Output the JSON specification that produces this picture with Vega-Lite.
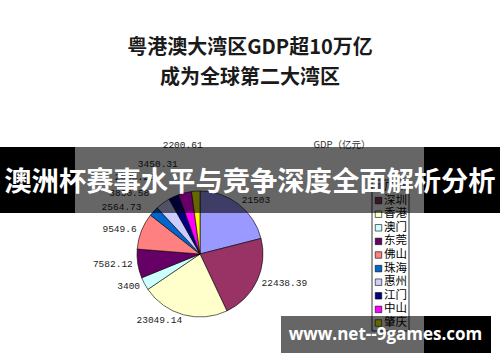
{
  "$schema": "https://vega.github.io/schema/vega-lite/v6.json",
  "width": 500,
  "height": 362,
  "padding": 0,
  "autosize": {"type": "none"},
  "background": "white",
  "config": {"view": {"stroke": null}},
  "resolve": {"scale": {"y": "independent"}},
  "datasets": {
    "gdp": [
      {"i": 1, "city": "广州", "gdp": 21503, "label": "21503"},
      {"i": 2, "city": "深圳", "gdp": 22438.39, "label": "22438.39"},
      {"i": 3, "city": "香港", "gdp": 23049.14, "label": "23049.14"},
      {"i": 4, "city": "澳门", "gdp": 3400, "label": "3400"},
      {"i": 5, "city": "东莞", "gdp": 7582.12, "label": "7582.12"},
      {"i": 6, "city": "佛山", "gdp": 9549.6, "label": "9549.6"},
      {"i": 7, "city": "珠海", "gdp": 2564.73, "label": "2564.73"},
      {"i": 8, "city": "惠州", "gdp": 3830.58, "label": "3830.58"},
      {"i": 9, "city": "江门", "gdp": 2690.25, "label": "2690.25"},
      {"i": 10, "city": "中山", "gdp": 3450.31, "label": "3450.31"},
      {"i": 11, "city": "肇庆", "gdp": 2200.61, "label": "2200.61"}
    ],
    "one": [{}]
  },
  "layer": [
    {
      "data": {"name": "gdp"},
      "mark": {"type": "arc", "outerRadius": 63, "stroke": "#000", "strokeWidth": 0.6},
      "encoding": {
        "x": {"datum": 200, "type": "quantitative", "scale": {"domain": [0, 500], "nice": false, "zero": false}, "axis": null},
        "y": {"datum": 254, "type": "quantitative", "scale": {"domain": [0, 362], "nice": false, "zero": false, "reverse": true}, "axis": null},
        "theta": {"field": "gdp", "type": "quantitative", "stack": true},
        "order": {"field": "i", "type": "quantitative"},
        "detail": {"field": "city"},
        "color": {"field": "city", "type": "nominal", "legend": null,
          "scale": {"domain": ["广州","深圳","香港","澳门","东莞","佛山","珠海","惠州","江门","中山","肇庆"],
                    "range": ["#9999ff","#993366","#ffffcc","#ccffff","#660066","#ff8080","#0066cc","#ccccff","#000080","#ff00ff","#ffff00"]}}
      }
    },
    {
      "data": {"name": "gdp"},
      "mark": {"type": "text", "radius": 68, "align": "left", "baseline": "middle", "font": "Liberation Mono", "fontSize": 9.5, "color": "#222"},
      "encoding": {
        "x": {"datum": 200, "type": "quantitative", "scale": {"domain": [0, 500], "nice": false, "zero": false}, "axis": null},
        "y": {"datum": 254, "type": "quantitative", "scale": {"domain": [0, 362], "nice": false, "zero": false, "reverse": true}, "axis": null},
        "theta": {"field": "gdp", "type": "quantitative", "stack": true},
        "order": {"field": "i", "type": "quantitative"},
        "detail": {"field": "city"},
        "text": {"condition": {"test": "indexof(['广州','深圳'], datum.city) >= 0", "field": "label", "type": "nominal"}, "value": ""}
      }
    },
    {
      "data": {"name": "gdp"},
      "mark": {"type": "text", "radius": 68, "align": "right", "baseline": "middle", "font": "Liberation Mono", "fontSize": 9.5, "color": "#222"},
      "encoding": {
        "x": {"datum": 200, "type": "quantitative", "scale": {"domain": [0, 500], "nice": false, "zero": false}, "axis": null},
        "y": {"datum": 254, "type": "quantitative", "scale": {"domain": [0, 362], "nice": false, "zero": false, "reverse": true}, "axis": null},
        "theta": {"field": "gdp", "type": "quantitative", "stack": true},
        "order": {"field": "i", "type": "quantitative"},
        "detail": {"field": "city"},
        "text": {"condition": {"test": "indexof(['香港','澳门','东莞','佛山'], datum.city) >= 0", "field": "label", "type": "nominal"}, "value": ""}
      }
    },
    {
      "data": {"name": "gdp"},
      "mark": {"type": "text", "radius": 70, "dx": -7, "align": "right", "baseline": "middle", "font": "Liberation Mono", "fontSize": 9.5, "color": "#222"},
      "encoding": {
        "x": {"datum": 200, "type": "quantitative", "scale": {"domain": [0, 500], "nice": false, "zero": false}, "axis": null},
        "y": {"datum": 254, "type": "quantitative", "scale": {"domain": [0, 362], "nice": false, "zero": false, "reverse": true}, "axis": null},
        "theta": {"field": "gdp", "type": "quantitative", "stack": true},
        "order": {"field": "i", "type": "quantitative"},
        "detail": {"field": "city"},
        "text": {"condition": {"test": "datum.city == '珠海'", "field": "label", "type": "nominal"}, "value": ""}
      }
    },
    {
      "data": {"name": "gdp"},
      "mark": {"type": "text", "radius": 76, "dx": -6, "align": "right", "baseline": "middle", "font": "Liberation Mono", "fontSize": 9.5, "color": "#222"},
      "encoding": {
        "x": {"datum": 200, "type": "quantitative", "scale": {"domain": [0, 500], "nice": false, "zero": false}, "axis": null},
        "y": {"datum": 254, "type": "quantitative", "scale": {"domain": [0, 362], "nice": false, "zero": false, "reverse": true}, "axis": null},
        "theta": {"field": "gdp", "type": "quantitative", "stack": true},
        "order": {"field": "i", "type": "quantitative"},
        "detail": {"field": "city"},
        "text": {"condition": {"test": "datum.city == '惠州'", "field": "label", "type": "nominal"}, "value": ""}
      }
    },
    {
      "data": {"name": "gdp"},
      "mark": {"type": "text", "radius": 85, "dx": -10, "align": "right", "baseline": "middle", "font": "Liberation Mono", "fontSize": 9.5, "color": "#222"},
      "encoding": {
        "x": {"datum": 200, "type": "quantitative", "scale": {"domain": [0, 500], "nice": false, "zero": false}, "axis": null},
        "y": {"datum": 254, "type": "quantitative", "scale": {"domain": [0, 362], "nice": false, "zero": false, "reverse": true}, "axis": null},
        "theta": {"field": "gdp", "type": "quantitative", "stack": true},
        "order": {"field": "i", "type": "quantitative"},
        "detail": {"field": "city"},
        "text": {"condition": {"test": "datum.city == '江门'", "field": "label", "type": "nominal"}, "value": ""}
      }
    },
    {
      "data": {"name": "gdp"},
      "mark": {"type": "text", "radius": 93, "align": "right", "baseline": "middle", "font": "Liberation Mono", "fontSize": 9.5, "color": "#222"},
      "encoding": {
        "x": {"datum": 200, "type": "quantitative", "scale": {"domain": [0, 500], "nice": false, "zero": false}, "axis": null},
        "y": {"datum": 254, "type": "quantitative", "scale": {"domain": [0, 362], "nice": false, "zero": false, "reverse": true}, "axis": null},
        "theta": {"field": "gdp", "type": "quantitative", "stack": true},
        "order": {"field": "i", "type": "quantitative"},
        "detail": {"field": "city"},
        "text": {"condition": {"test": "datum.city == '中山'", "field": "label", "type": "nominal"}, "value": ""}
      }
    },
    {
      "data": {"name": "gdp"},
      "mark": {"type": "text", "radius": 109, "dx": 10, "align": "right", "baseline": "middle", "font": "Liberation Mono", "fontSize": 9.5, "color": "#222"},
      "encoding": {
        "x": {"datum": 200, "type": "quantitative", "scale": {"domain": [0, 500], "nice": false, "zero": false}, "axis": null},
        "y": {"datum": 254, "type": "quantitative", "scale": {"domain": [0, 362], "nice": false, "zero": false, "reverse": true}, "axis": null},
        "theta": {"field": "gdp", "type": "quantitative", "stack": true},
        "order": {"field": "i", "type": "quantitative"},
        "detail": {"field": "city"},
        "text": {"condition": {"test": "datum.city == '肇庆'", "field": "label", "type": "nominal"}, "value": ""}
      }
    },
    {
      "data": {"name": "one"},
      "mark": {"type": "rect", "filled": false, "stroke": "#000", "strokeWidth": 0.8},
      "encoding": {
        "x": {"datum": 372, "type": "quantitative", "scale": {"domain": [0, 500], "nice": false, "zero": false}, "axis": null},
        "x2": {"datum": 409},
        "y": {"datum": 180, "type": "quantitative", "scale": {"domain": [0, 362], "nice": false, "zero": false, "reverse": true}, "axis": null},
        "y2": {"datum": 331}
      }
    },
    {
      "data": {"name": "gdp"},
      "mark": {"type": "point", "shape": "square", "size": 42, "filled": true, "stroke": "#000", "strokeWidth": 0.6, "opacity": 1},
      "encoding": {
        "x": {"datum": 378.5, "type": "quantitative", "scale": {"domain": [0, 500], "nice": false, "zero": false}, "axis": null},
        "y": {"field": "city", "type": "nominal", "axis": null,
          "scale": {"type": "point", "domain": ["广州","深圳","香港","澳门","东莞","佛山","珠海","惠州","江门","中山","肇庆"], "range": [187, 323], "padding": 0}},
        "color": {"field": "city", "type": "nominal", "legend": null}
      }
    },
    {
      "data": {"name": "gdp"},
      "mark": {"type": "text", "align": "left", "baseline": "middle", "font": "Noto Sans CJK SC", "fontSize": 11.5, "color": "#000"},
      "encoding": {
        "x": {"datum": 384, "type": "quantitative", "scale": {"domain": [0, 500], "nice": false, "zero": false}, "axis": null},
        "y": {"field": "city", "type": "nominal", "axis": null,
          "scale": {"type": "point", "domain": ["广州","深圳","香港","澳门","东莞","佛山","珠海","惠州","江门","中山","肇庆"], "range": [187, 323], "padding": 0}},
        "text": {"field": "city", "type": "nominal"}
      }
    },
    {
      "data": {"name": "one"},
      "mark": {"type": "text", "align": "center", "baseline": "middle", "font": "Noto Sans CJK SC", "fontSize": 9.5, "color": "#333", "text": "GDP（亿元）"},
      "encoding": {
        "x": {"datum": 342, "type": "quantitative", "scale": {"domain": [0, 500], "nice": false, "zero": false}, "axis": null},
        "y": {"datum": 145, "type": "quantitative", "scale": {"domain": [0, 362], "nice": false, "zero": false, "reverse": true}, "axis": null}
      }
    },
    {
      "data": {"name": "one"},
      "mark": {"type": "text", "align": "center", "baseline": "middle", "font": "Noto Sans CJK SC", "fontWeight": "bold", "fontSize": 20, "color": "#1a1a1a", "text": "粤港澳大湾区GDP超10万亿"},
      "encoding": {
        "x": {"datum": 250, "type": "quantitative", "scale": {"domain": [0, 500], "nice": false, "zero": false}, "axis": null},
        "y": {"datum": 48, "type": "quantitative", "scale": {"domain": [0, 362], "nice": false, "zero": false, "reverse": true}, "axis": null}
      }
    },
    {
      "data": {"name": "one"},
      "mark": {"type": "text", "align": "center", "baseline": "middle", "font": "Noto Sans CJK SC", "fontWeight": "bold", "fontSize": 20, "color": "#1a1a1a", "text": "成为全球第二大湾区"},
      "encoding": {
        "x": {"datum": 250, "type": "quantitative", "scale": {"domain": [0, 500], "nice": false, "zero": false}, "axis": null},
        "y": {"datum": 78, "type": "quantitative", "scale": {"domain": [0, 362], "nice": false, "zero": false, "reverse": true}, "axis": null}
      }
    },
    {
      "data": {"name": "one"},
      "mark": {"type": "rect", "color": "#000", "opacity": 0.6},
      "encoding": {
        "x": {"datum": 75, "type": "quantitative", "scale": {"domain": [0, 500], "nice": false, "zero": false}, "axis": null},
        "x2": {"datum": 424},
        "y": {"datum": 147, "type": "quantitative", "scale": {"domain": [0, 362], "nice": false, "zero": false, "reverse": true}, "axis": null},
        "y2": {"datum": 213}
      }
    },
    {
      "data": {"name": "one"},
      "mark": {"type": "rect", "color": "#000", "opacity": 1},
      "encoding": {
        "x": {"datum": 0, "type": "quantitative", "scale": {"domain": [0, 500], "nice": false, "zero": false}, "axis": null},
        "x2": {"datum": 75},
        "y": {"datum": 147, "type": "quantitative", "scale": {"domain": [0, 362], "nice": false, "zero": false, "reverse": true}, "axis": null},
        "y2": {"datum": 213}
      }
    },
    {
      "data": {"name": "one"},
      "mark": {"type": "rect", "color": "#000", "opacity": 1},
      "encoding": {
        "x": {"datum": 424, "type": "quantitative", "scale": {"domain": [0, 500], "nice": false, "zero": false}, "axis": null},
        "x2": {"datum": 500},
        "y": {"datum": 147, "type": "quantitative", "scale": {"domain": [0, 362], "nice": false, "zero": false, "reverse": true}, "axis": null},
        "y2": {"datum": 213}
      }
    },
    {
      "data": {"name": "one"},
      "mark": {"type": "rect", "color": "#000", "opacity": 0.6},
      "encoding": {
        "x": {"datum": 281, "type": "quantitative", "scale": {"domain": [0, 500], "nice": false, "zero": false}, "axis": null},
        "x2": {"datum": 424},
        "y": {"datum": 316, "type": "quantitative", "scale": {"domain": [0, 362], "nice": false, "zero": false, "reverse": true}, "axis": null},
        "y2": {"datum": 353}
      }
    },
    {
      "data": {"name": "one"},
      "mark": {"type": "rect", "color": "#000", "opacity": 1},
      "encoding": {
        "x": {"datum": 424, "type": "quantitative", "scale": {"domain": [0, 500], "nice": false, "zero": false}, "axis": null},
        "x2": {"datum": 491},
        "y": {"datum": 316, "type": "quantitative", "scale": {"domain": [0, 362], "nice": false, "zero": false, "reverse": true}, "axis": null},
        "y2": {"datum": 353}
      }
    },
    {
      "data": {"name": "one"},
      "mark": {"type": "text", "align": "center", "baseline": "middle", "font": "Noto Sans CJK SC", "fontWeight": "bold", "fontSize": 27.3, "color": "#fff", "text": "澳洲杯赛事水平与竞争深度全面解析分析"},
      "encoding": {
        "x": {"datum": 250, "type": "quantitative", "scale": {"domain": [0, 500], "nice": false, "zero": false}, "axis": null},
        "y": {"datum": 183, "type": "quantitative", "scale": {"domain": [0, 362], "nice": false, "zero": false, "reverse": true}, "axis": null}
      }
    },
    {
      "data": {"name": "one"},
      "mark": {"type": "text", "align": "center", "baseline": "middle", "font": "Open Sans", "fontWeight": "bold", "fontSize": 17, "color": "#fff", "text": "www.net--9games.com"},
      "encoding": {
        "x": {"datum": 385.5, "type": "quantitative", "scale": {"domain": [0, 500], "nice": false, "zero": false}, "axis": null},
        "y": {"datum": 335, "type": "quantitative", "scale": {"domain": [0, 362], "nice": false, "zero": false, "reverse": true}, "axis": null}
      }
    }
  ]
}
